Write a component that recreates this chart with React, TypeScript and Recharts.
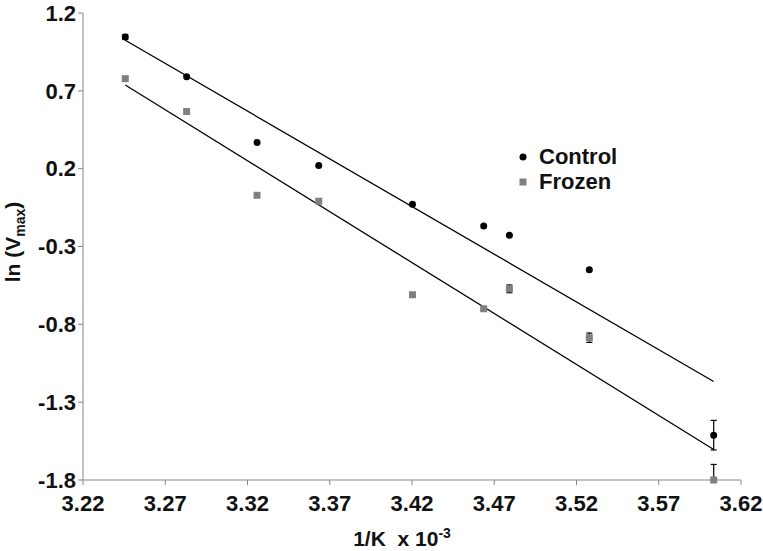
import React from 'react';
import { ScatterChart, Scatter, XAxis, YAxis, ErrorBar, Legend } from 'recharts';

// 1/K x 10^-3
const invTemp = [3.2457, 3.283, 3.3258, 3.3633, 3.4203, 3.4636, 3.4792, 3.5278, 3.6034];
const controlLnV = [1.046, 0.791, 0.368, 0.221, -0.028, -0.169, -0.227, -0.45, -1.512];
const frozenLnV = [0.778, 0.567, 0.029, -0.009, -0.61, -0.7, -0.572, -0.886, -1.8];
const controlErr = [0.016, 0, 0, 0, 0, 0, 0, 0, 0.095];
const frozenErr: (number | number[])[] = [0, 0, 0, 0, 0, 0.01, 0.025, 0.03, [0, 0.1]];

// linear trendlines (end points)
const fitX = [3.2457, 3.6034];
const controlFit = [1.025, -1.167];
const frozenFit = [0.7375, -1.604];

const xTicks = [3.22, 3.27, 3.32, 3.37, 3.42, 3.47, 3.52, 3.57, 3.62];
const yTicks = [1.2, 0.7, 0.2, -0.3, -0.8, -1.3, -1.8];

const controlData = invTemp.map((x, i) => ({ x, y: controlLnV[i], err: controlErr[i] }));
const frozenData = invTemp.map((x, i) => ({ x, y: frozenLnV[i], err: frozenErr[i] }));
const controlLine = fitX.map((x, i) => ({ x, y: controlFit[i] }));
const frozenLine = fitX.map((x, i) => ({ x, y: frozenFit[i] }));

const FONT = "'Liberation Sans', Arial, sans-serif";
const AXIS = '#868686';

const Dot = (p: any) => <circle cx={p.cx} cy={p.cy} r={3.5} fill="#000" />;
const Square = (p: any) => <rect x={p.cx - 3.5} y={p.cy - 3.5} width={7} height={7} fill="#808080" />;
const NoShape = () => <g />;

const tickStyle = { fontSize: 22, fontWeight: 700, fill: '#111', fontFamily: FONT };

const LegendBox = () => (
  <div style={{ fontFamily: FONT, fontSize: 22, fontWeight: 700, color: '#111', lineHeight: '25px' }}>
    <div style={{ display: 'flex', alignItems: 'center' }}>
      <svg width={23} height={14}><circle cx={7} cy={7} r={3.5} fill="#000" /></svg>
      <span>Control</span>
    </div>
    <div style={{ display: 'flex', alignItems: 'center' }}>
      <svg width={23} height={14}><rect x={3.5} y={3.5} width={7} height={7} fill="#808080" /></svg>
      <span>Frozen</span>
    </div>
  </div>
);

export default function App() {
  return (
    <div style={{ position: 'absolute', left: 0, top: 0 }}>
      <ScatterChart width={763} height={551} margin={{ top: 13, right: 22, bottom: 0, left: 0 }}>
        <XAxis
          type="number"
          dataKey="x"
          domain={[3.22, 3.62]}
          ticks={xTicks}
          interval={0}
          tickFormatter={(v: number) => v.toFixed(2)}
          height={71}
          tickSize={5}
          tickMargin={10}
          axisLine={{ stroke: AXIS }}
          tickLine={{ stroke: AXIS }}
          tick={tickStyle}
          label={{
            content: () => (
              <text x={402} y={546} textAnchor="middle" style={{ whiteSpace: 'pre' }} fontFamily={FONT} fontSize={21} fontWeight={700} fill="#111">
                {'1/K  x 10'}
                <tspan fontSize={14} dy={-8}>-3</tspan>
              </text>
            ),
          }}
        />
        <YAxis
          type="number"
          dataKey="y"
          domain={[-1.8, 1.2]}
          ticks={yTicks}
          interval={0}
          tickFormatter={(v: number) => v.toFixed(1)}
          width={83}
          tickSize={5}
          tickMargin={2}
          axisLine={{ stroke: AXIS }}
          tickLine={{ stroke: AXIS }}
          tick={tickStyle}
          label={{
            content: () => (
              <text transform="translate(20,242) rotate(-90)" textAnchor="middle" fontFamily={FONT} fontSize={21} fontWeight={700} fill="#111">
                {'ln (V'}
                <tspan fontSize={14} dy={5}>max</tspan>
                <tspan dy={-5}>)</tspan>
              </text>
            ),
          }}
        />
        <Legend
          layout="vertical"
          align="center"
          verticalAlign="middle"
          content={<LegendBox />}
          wrapperStyle={{ position: 'absolute', left: 516, top: 144, width: 'auto', height: 'auto' }}
        />
        <Scatter data={controlLine} line={{ stroke: '#000', strokeWidth: 1.3 }} shape={NoShape} legendType="none" isAnimationActive={false} />
        <Scatter data={frozenLine} line={{ stroke: '#000', strokeWidth: 1.3 }} shape={NoShape} legendType="none" isAnimationActive={false} />
        <Scatter name="Control" data={controlData} shape={Dot} isAnimationActive={false}>
          <ErrorBar dataKey="err" direction="y" width={3} stroke="#000" strokeWidth={1.2} />
        </Scatter>
        <Scatter name="Frozen" data={frozenData} shape={Square} isAnimationActive={false}>
          <ErrorBar dataKey="err" direction="y" width={3} stroke="#000" strokeWidth={1.2} />
        </Scatter>
      </ScatterChart>
    </div>
  );
}
